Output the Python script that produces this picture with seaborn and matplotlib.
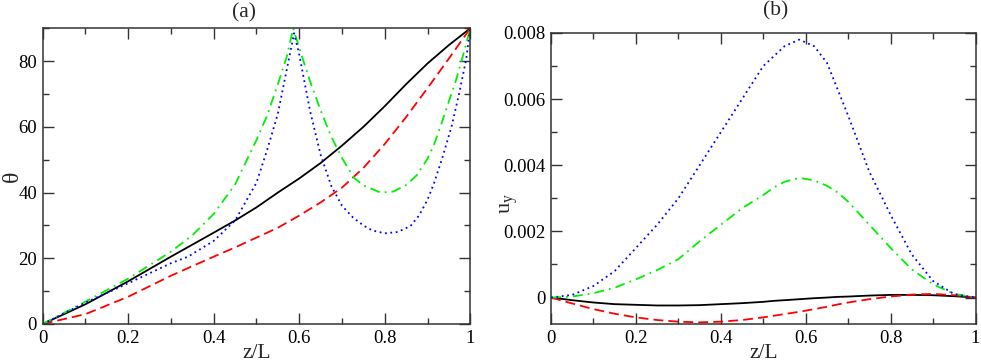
import numpy as np
import pandas as pd
import matplotlib
matplotlib.use("Agg")
import matplotlib.pyplot as plt
from matplotlib.ticker import MultipleLocator, FuncFormatter
import seaborn as sns

# panel (a): theta vs z/L
z_black_a = [0, 0.1, 0.2, 0.3, 0.4, 0.45, 0.5, 0.55, 0.6, 0.65, 0.7, 0.75, 0.8, 0.85, 0.9, 0.95, 1.0]
th_black = [0, 6.0, 13.0, 20.5, 27.8, 31.5, 35.5, 40.0, 44.3, 49.0, 54.3, 60.0, 66.3, 73.0, 79.3, 84.9, 90.0]

z_red_a = [0, 0.1, 0.2, 0.3, 0.4, 0.45, 0.5, 0.55, 0.6, 0.65, 0.7, 0.75, 0.8, 0.85, 0.9, 0.95, 1.0]
th_red = [0, 3.0, 8.3, 14.7, 20.5, 23.3, 26.3, 29.3, 33.0, 37.0, 41.5, 47.5, 54.8, 63.0, 71.8, 80.8, 90.0]

z_green_a = [0, 0.1, 0.2, 0.3, 0.35, 0.4, 0.45, 0.5, 0.525, 0.55, 0.57, 0.586, 0.6, 0.625, 0.65,
             0.675, 0.7, 0.728, 0.75, 0.79, 0.82, 0.85, 0.875, 0.9, 0.915, 0.93, 0.95, 0.965,
             0.98, 1.0]
th_green = [0, 6.8, 13.8, 22.0, 27.0, 33.5, 42.5, 56.0, 63.5, 73.0, 81.0, 90.0, 84.0, 74.0, 65.0,
            57.0, 50.5, 44.5, 42.2, 40.0, 40.3, 42.3, 45.3, 50.3, 54.5, 60.0, 67.8, 73.5,
            80.3, 90.0]

z_blue_a = [0, 0.1, 0.2, 0.3, 0.34, 0.4, 0.45, 0.5, 0.525, 0.55, 0.567, 0.588, 0.6, 0.625, 0.65,
            0.675, 0.7, 0.725, 0.75, 0.77, 0.8, 0.83, 0.86, 0.88, 0.9, 0.915, 0.933, 0.956,
            0.974, 0.99, 1.0]
th_blue = [0, 6.5, 12.4, 18.5, 20.5, 25.3, 31.5, 43.0, 53.0, 64.0, 75.0, 88.5, 82.0, 65.0, 51.5,
           42.0, 36.0, 32.5, 30.0, 28.5, 27.6, 28.0, 29.8, 33.0, 37.8, 42.8, 49.9, 60.0,
           70.2, 80.3, 90.0]

# panel (b): u_y vs z/L
z_b = [0, 0.05, 0.1, 0.15, 0.2, 0.25, 0.3, 0.35, 0.4, 0.45, 0.5, 0.525, 0.55, 0.585,
       0.62, 0.65, 0.675, 0.7, 0.75, 0.8, 0.85, 0.9, 0.95, 1.0]
uy_black = [0, -0.00008, -0.00015, -0.0002, -0.00022, -0.00024, -0.00024, -0.00023, -0.0002,
            -0.00017, -0.00013, -0.0001, -0.00008, -0.00005, -0.00002, 0.0, 0.00002, 0.00003,
            0.00006, 0.00008, 0.00008, 0.00007, 0.00004, 0]
uy_red = [0, -0.00018, -0.00035, -0.00049, -0.0006, -0.00068, -0.00073, -0.00075, -0.00073,
          -0.00068, -0.0006, -0.00055, -0.0005, -0.00043, -0.00035, -0.00028, -0.00021, -0.00015,
          -0.00005, 0.00003, 0.00009, 0.00011, 0.00007, 0]
uy_green = [0, 0.00003, 0.00013, 0.0003, 0.00055, 0.00083, 0.00116, 0.0017, 0.0022, 0.0027,
            0.0031, 0.00333, 0.0035, 0.00362, 0.00354, 0.00338, 0.00318, 0.0029, 0.0022, 0.0015,
            0.00085, 0.0004, 0.00011, 0]
uy_blue = [0, 0.00008, 0.00035, 0.0008, 0.0015, 0.0022, 0.003, 0.004, 0.005, 0.006, 0.007,
           0.0073, 0.0076, 0.0078, 0.0076, 0.0071, 0.0063, 0.0055, 0.0038, 0.0025, 0.0013,
           0.0005, 0.0001, 0]

names = ["black", "red", "green", "blue"]
palette = {"black": "#000000", "red": "#ff0000", "green": "#00f000", "blue": "#0000ff"}
dashes = {"black": "", "red": (5.5, 2.8), "green": (5.5, 2.8, 1, 2.8), "blue": (1, 2)}


def long_form(pairs):
    frames = []
    for name, (zz, vv) in zip(names, pairs):
        frames.append(pd.DataFrame({"z": zz, "v": vv, "curve": name}))
    return pd.concat(frames, ignore_index=True)


df_a = long_form([(z_black_a, th_black), (z_red_a, th_red),
                  (z_green_a, th_green), (z_blue_a, th_blue)])
df_b = long_form([(z_b, uy_black), (z_b, uy_red), (z_b, uy_green), (z_b, uy_blue)])

sns.set_style("ticks")
plt.rcParams["font.family"] = ["Liberation Serif", "DejaVu Serif"]
plt.rcParams["mathtext.fontset"] = "custom"
plt.rcParams["mathtext.rm"] = "Liberation Serif"
plt.rcParams["font.size"] = 13.5

fig = plt.figure(figsize=(9.81, 3.61), dpi=100)
ax_a = fig.add_axes([0.0435, 0.1025, 0.4359, 0.8191])
ax_b = fig.add_axes([0.5617, 0.1025, 0.4327, 0.8061])

for ax, df in [(ax_a, df_a), (ax_b, df_b)]:
    sns.lineplot(data=df, x="z", y="v", hue="curve", style="curve", palette=palette,
                 dashes=dashes, estimator=None, linewidth=1.3, legend=False, ax=ax)
    ax.set_xlim(0, 1)
    ax.xaxis.set_major_locator(MultipleLocator(0.2))
    ax.xaxis.set_minor_locator(MultipleLocator(0.1))
    ax.xaxis.set_major_formatter(FuncFormatter(lambda v, p: "%g" % round(v, 6)))
    ax.tick_params(which="both", direction="in", top=True, right=True, colors="#333333",
                   labelcolor="black", labelsize=13.5)
    ax.tick_params(which="major", length=8, width=1.0, pad=4)
    ax.tick_params(which="minor", length=4.5, width=1.0)
    for sp in ax.spines.values():
        sp.set_color("#333333")
        sp.set_linewidth(1.1)
    ax.set_xlabel("z/L", fontsize=15.5, labelpad=-2)

ax_a.set_ylim(0, 90)
ax_a.yaxis.set_major_locator(MultipleLocator(20))
ax_a.yaxis.set_minor_locator(MultipleLocator(10))
ax_a.yaxis.set_major_formatter(FuncFormatter(lambda v, p: "%g" % v))
ax_a.set_ylabel("θ", fontsize=17)
ax_a.yaxis.set_label_coords(-0.047, 0.5)

ax_b.set_ylim(-0.0008, 0.008)
ax_b.yaxis.set_major_locator(MultipleLocator(0.002))
ax_b.yaxis.set_minor_locator(MultipleLocator(0.001))
ax_b.yaxis.set_major_formatter(FuncFormatter(lambda v, p: "%g" % round(v, 6)))
ax_b.set_ylabel(r"$\mathregular{u_y}$", fontsize=16)
ax_b.yaxis.set_label_coords(-0.072, 0.415)

fig.text(244 / 981, 1 - 13 / 361, "(a)", ha="center", va="center", fontsize=15.5)
fig.text(776 / 981, 1 - 11 / 361, "(b)", ha="center", va="center", fontsize=15.5)

fig.savefig("out.png", dpi=100)
